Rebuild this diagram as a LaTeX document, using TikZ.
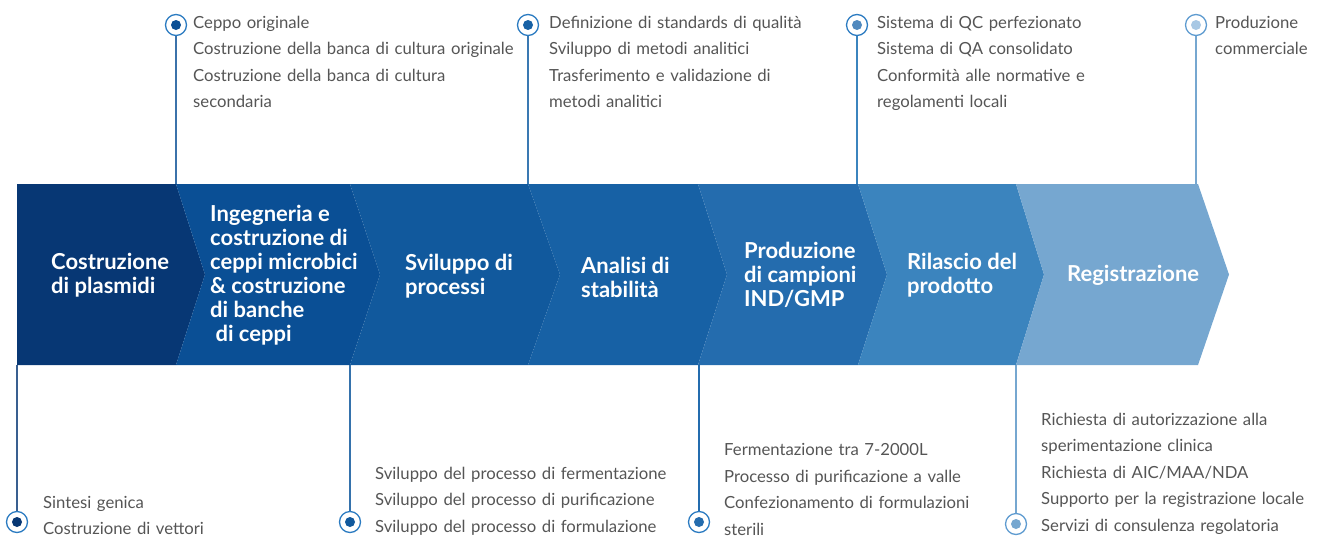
\documentclass[tikz,border=0pt]{standalone}
\usepackage{fontspec}
\setmainfont{Lato}
\definecolor{sA}{HTML}{073774}
\definecolor{sB}{HTML}{0A4F95}
\definecolor{sC}{HTML}{11599D}
\definecolor{sD}{HTML}{1761A5}
\definecolor{sE}{HTML}{246CAE}
\definecolor{sF}{HTML}{3B84BE}
\definecolor{sG}{HTML}{76A7D0}
\definecolor{ringblue}{HTML}{2B7BC1}
\definecolor{ringlight}{HTML}{5E9BD0}
\definecolor{txtgray}{HTML}{555555}
\definecolor{dotlight}{HTML}{A8C8E4}
\begin{document}
\begin{tikzpicture}[x=1pt,y=-1pt,
  lbl/.style={text=white, font=\fontsize{22}{24}\selectfont\bfseries, align=left, anchor=west, inner sep=0pt},
  desc/.style={text=txtgray, font=\fontsize{16.7}{26.6}\selectfont, text width=340pt, align=left, anchor=base west, inner sep=0pt},
  ring/.style={circle, draw=#1, line width=1.3pt, fill=white, minimum size=21pt, inner sep=0pt},
  conn/.style={draw=#1, line width=1.2pt}
]
\useasboundingbox (0,0) rectangle (1325,536);
% chevron band
\def\ty{274.5}
\fill[sA] (17,184) -- (176,184) -- (205,\ty) -- (176,365) -- (17,365) -- cycle;
\fill[sB] (176,184) -- (350,184) -- (380,\ty) -- (350,365) -- (176,365) -- (205,\ty) -- cycle;
\fill[sC] (350,184) -- (528,184) -- (560,\ty) -- (528,365) -- (350,365) -- (380,\ty) -- cycle;
\fill[sD] (528,184) -- (698,184) -- (727,\ty) -- (698,365) -- (528,365) -- (560,\ty) -- cycle;
\fill[sE] (698,184) -- (858,184) -- (887,\ty) -- (858,365) -- (698,365) -- (727,\ty) -- cycle;
\fill[sF] (858,184) -- (1016,184) -- (1044,\ty) -- (1016,365) -- (858,365) -- (887,\ty) -- cycle;
\fill[sG] (1016,184) -- (1198,184) -- (1229,\ty) -- (1198,365) -- (1016,365) -- (1044,\ty) -- cycle;
% band labels
\node[lbl] (l1) at (51,275) {Costruzione\\di plasmidi};
\node[lbl] (l2) at (210,275) {Ingegneria e\\costruzione di\\ceppi microbici\\\& costruzione\\di banche\\\ di ceppi};
\node[lbl] (l3) at (405,276) {Sviluppo di\\processi};
\node[lbl] (l4) at (581,277) {Analisi di\\stabilità};
\node[lbl] (l5) at (744,275) {Produzione\\di campioni\\IND/GMP};
\node[lbl] (l6) at (907,275) {Rilascio del\\prodotto};
\node[lbl] (l7) at (1067,275) {Registrazione};
% band edge coordinates
\coordinate (t1) at (176,184);
\coordinate (t2) at (528,184);
\coordinate (t3) at (857,184);
\coordinate (t4) at (1196,184);
\coordinate (b1) at (17,365);
\coordinate (b2) at (350,365);
\coordinate (b3) at (699,365);
\coordinate (b4) at (1016,365);
% connectors
\draw[conn=sB!80!white] (176,25) -- (t1);
\draw[conn=sD!85!white] (528,25) -- (t2);
\draw[conn=sF] (857,25) -- (t3);
\draw[conn=sG] (1196,25) -- (t4);
\draw[conn=sA!80!white] (b1) -- (17,522);
\draw[conn=sC!85!white] (b2) -- (350,522);
\draw[conn=sE] (b3) -- (699,522);
\draw[conn=sG] (b4) -- (1016,524);
% rings
\node[ring=ringblue] (r1) at (176,25) {};
\node[ring=ringblue] (r2) at (528,25) {};
\node[ring=ringblue] (r3) at (857,25) {};
\node[ring=ringlight] (r4) at (1196,25) {};
\node[ring=ringblue] (r5) at (17,522) {};
\node[ring=ringblue] (r6) at (350,522) {};
\node[ring=ringblue] (r7) at (699,522) {};
\node[ring=ringlight] (r8) at (1016,524) {};
\fill[sB] (r1) circle (5pt);
\fill[sD] (r2) circle (5pt);
\fill[sE!80!white] (r3) circle (5pt);
\fill[dotlight] (r4) circle (5pt);
\fill[sA] (r5) circle (5pt);
\fill[sC] (r6) circle (5pt);
\fill[sE] (r7) circle (5pt);
\fill[sG] (r8) circle (5pt);
% descriptions
\node[desc] (d1) at (193,28) {Ceppo originale\\Costruzione della banca di cultura originale\\Costruzione della banca di cultura\\secondaria};
\node[desc] (d2) at (549,28) {Definizione di standards di qualità\\Sviluppo di metodi analitici\\Trasferimento e validazione di\\metodi analitici};
\node[desc] (d3) at (877,28) {Sistema di QC perfezionato\\Sistema di QA consolidato\\Conformità alle normative e\\regolamenti locali};
\node[desc, text width=110pt] (d4) at (1215,28) {Produzione\\commerciale};
\node[desc] (d5) at (43,508) {Sintesi genica\\Costruzione di vettori};
\node[desc] (d6) at (375,479) {Sviluppo del processo di fermentazione\\Sviluppo del processo di purificazione\\Sviluppo del processo di formulazione};
\node[desc] (d7) at (724,455.5) {Fermentazione tra 7-2000L\\Processo di purificazione a valle\\Confezionamento di formulazioni\\sterili};
\node[desc] (d8) at (1041,425) {Richiesta di autorizzazione alla\\sperimentazione clinica\\Richiesta di AIC/MAA/NDA\\Supporto per la registrazione locale\\Servizi di consulenza regolatoria};
\end{tikzpicture}
\end{document}
